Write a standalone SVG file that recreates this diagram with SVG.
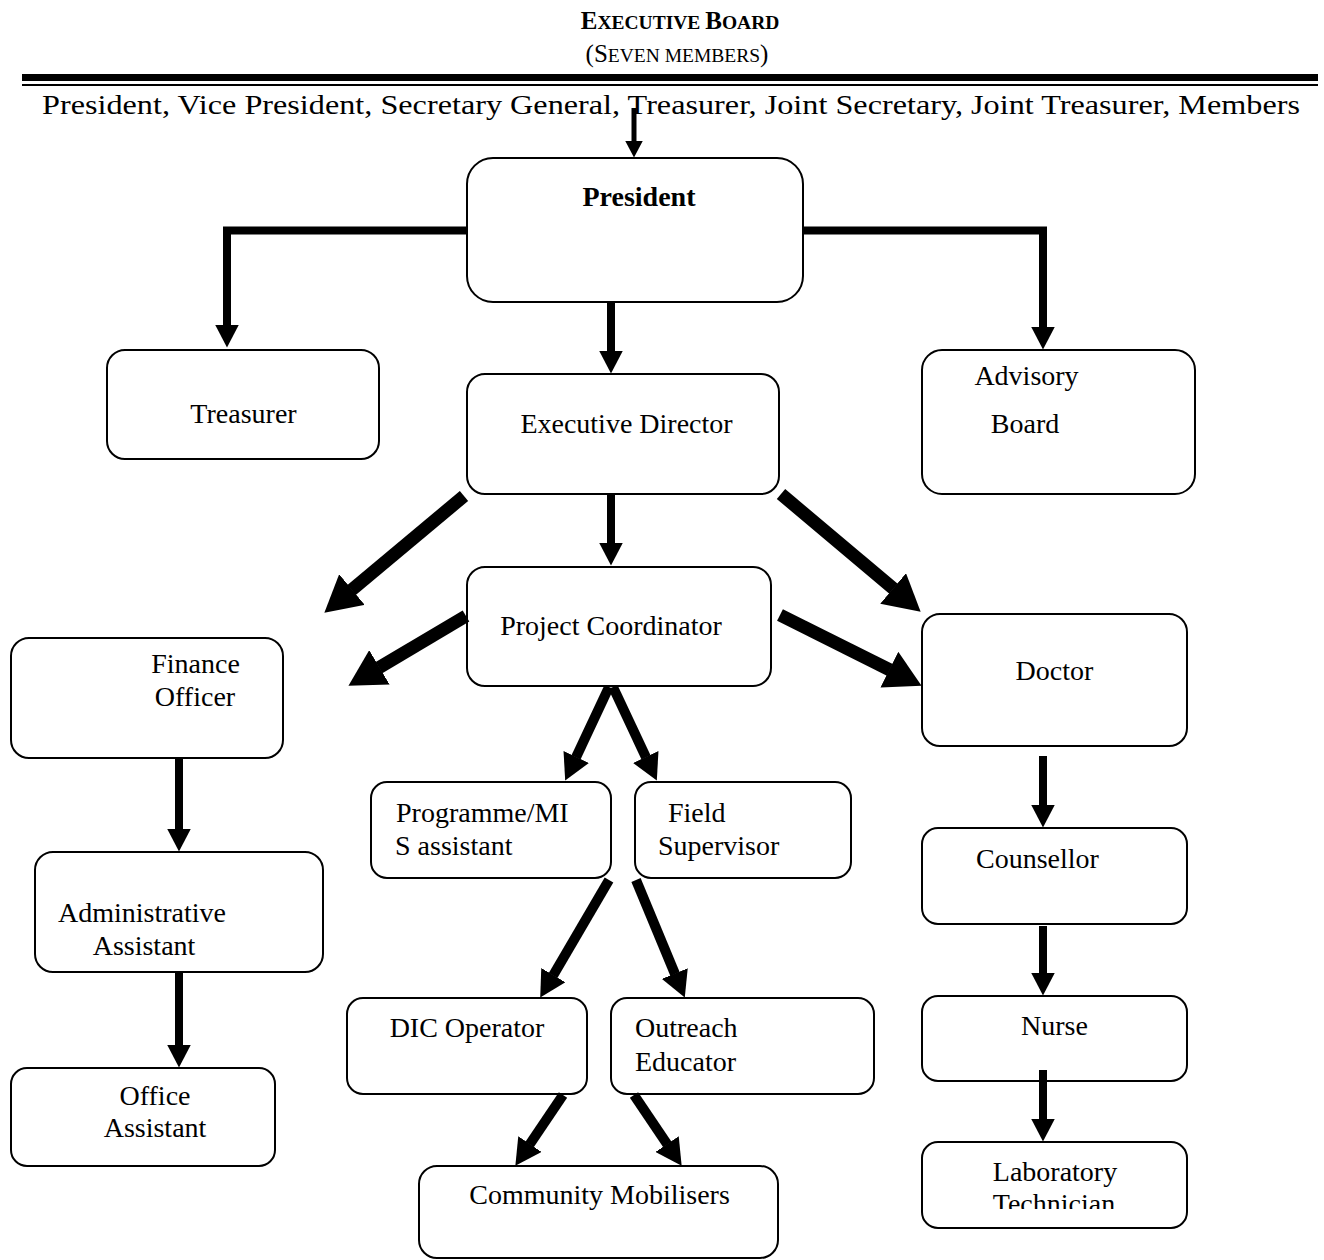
<svg xmlns="http://www.w3.org/2000/svg" width="1324" height="1260" viewBox="0 0 1324 1260">
<style>
.box{fill:#fff;stroke:#000;stroke-width:2}
.t{font-family:"Liberation Serif","Times New Roman",serif;font-size:28px;fill:#000}
.c{text-anchor:middle}
.b{font-weight:bold}
.ln{fill:none;stroke:#000;stroke-linecap:butt;stroke-linejoin:miter}
</style>
<defs>
<marker id="hs" markerUnits="userSpaceOnUse" markerWidth="18" markerHeight="18" refX="0.5" refY="9" orient="auto"><path d="M0,0 L17,9 L0,18 z" fill="#000"/></marker>
<marker id="hm" markerUnits="userSpaceOnUse" markerWidth="24" markerHeight="24" refX="0.5" refY="12" orient="auto"><path d="M0,0 L23,12 L0,24 z" fill="#000"/></marker>
<marker id="hd" markerUnits="userSpaceOnUse" markerWidth="28" markerHeight="28" refX="0.5" refY="14" orient="auto"><path d="M0,0 L26,14 L0,28 z" fill="#000"/></marker>
<marker id="hl" markerUnits="userSpaceOnUse" markerWidth="40" markerHeight="40" refX="0.5" refY="20" orient="auto"><path d="M0,0 L36,20 L0,40 z" fill="#000"/></marker>
<clipPath id="labclip"><rect x="900" y="1140" width="300" height="69"/></clipPath>
</defs>

<g id="header">
<text class="t b c" x="680" y="29"><tspan font-size="25">E</tspan><tspan font-size="19.5">XECUTIVE </tspan><tspan font-size="25">B</tspan><tspan font-size="19.5">OARD</tspan></text>
<text class="t c" x="677" y="62"><tspan font-size="25">(S</tspan><tspan font-size="19.5">EVEN MEMBERS</tspan><tspan font-size="25">)</tspan></text>
<rect x="22" y="74" width="1296" height="7" fill="#000"/>
<rect x="22" y="84" width="1296" height="2" fill="#000"/>
<text class="t" x="42" y="114" textLength="1258" lengthAdjust="spacingAndGlyphs">President, Vice President, Secretary General, Treasurer, Joint Secretary, Joint Treasurer, Members</text>
</g>

<g id="n-president"><rect class="box" x="467" y="158" width="336" height="144" rx="26"/><text class="t b c" x="639" y="206" font-size="33">President</text></g>
<g id="n-treasurer"><rect class="box" x="107" y="350" width="272" height="109" rx="18"/><text class="t c" x="243.5" y="423">Treasurer</text></g>
<g id="n-executive-director"><rect class="box" x="467" y="374" width="312" height="120" rx="18"/><text class="t c" x="626.5" y="433">Executive Director</text></g>
<g id="n-advisory-board"><rect class="box" x="922" y="350" width="273" height="144" rx="20"/><text class="t c" x="1026.5" y="385">Advisory</text><text class="t c" x="1025" y="433">Board</text></g>
<g id="n-project-coordinator"><rect class="box" x="467" y="567" width="304" height="119" rx="18"/><text class="t c" x="611" y="635">Project Coordinator</text></g>
<g id="n-finance-officer"><rect class="box" x="11" y="638" width="272" height="120" rx="18"/><text class="t c" x="195.5" y="673">Finance</text><text class="t c" x="195" y="706">Officer</text></g>
<g id="n-doctor"><rect class="box" x="922" y="614" width="265" height="132" rx="18"/><text class="t c" x="1054.5" y="680">Doctor</text></g>
<g id="n-programme-mis"><rect class="box" x="371" y="782" width="240" height="96" rx="16"/><text class="t" x="396" y="822">Programme/MI</text><text class="t" x="395" y="855">S assistant</text></g>
<g id="n-field-supervisor"><rect class="box" x="635" y="782" width="216" height="96" rx="16"/><text class="t" x="668" y="822">Field</text><text class="t" x="658" y="855">Supervisor</text></g>
<g id="n-admin-assistant"><rect class="box" x="35" y="852" width="288" height="120" rx="18"/><text class="t c" x="142" y="922">Administrative</text><text class="t c" x="144" y="955">Assistant</text></g>
<g id="n-counsellor"><rect class="box" x="922" y="828" width="265" height="96" rx="16"/><text class="t c" x="1037.5" y="868">Counsellor</text></g>
<g id="n-dic-operator"><rect class="box" x="347" y="998" width="240" height="96" rx="16"/><text class="t c" x="467" y="1037">DIC Operator</text></g>
<g id="n-outreach-educator"><rect class="box" x="611" y="998" width="263" height="96" rx="16"/><text class="t" x="635" y="1037">Outreach</text><text class="t" x="635" y="1071">Educator</text></g>
<g id="n-nurse"><rect class="box" x="922" y="996" width="265" height="85" rx="16"/><text class="t c" x="1054.5" y="1035">Nurse</text></g>
<g id="n-office-assistant"><rect class="box" x="11" y="1068" width="264" height="98" rx="16"/><text class="t c" x="155" y="1105">Office</text><text class="t c" x="155" y="1137">Assistant</text></g>
<g id="n-community-mobilisers"><rect class="box" x="419" y="1166" width="359" height="92" rx="18"/><text class="t c" x="599.5" y="1204">Community Mobilisers</text></g>
<g id="n-lab-technician"><rect class="box" x="922" y="1142" width="265" height="86" rx="16"/><text class="t c" x="1055" y="1181">Laboratory</text><text class="t c" x="1054" y="1213" clip-path="url(#labclip)">Technician</text></g>

<g id="connectors">
<path class="ln" d="M634,108 V141" stroke-width="5" marker-end="url(#hs)"/>
<path class="ln" d="M467,230.5 H227 V325" stroke-width="8" marker-end="url(#hm)"/>
<path class="ln" d="M803,230.5 H1043 V327" stroke-width="8" marker-end="url(#hm)"/>
<path class="ln" d="M611,302 V351" stroke-width="8" marker-end="url(#hm)"/>
<path class="ln" d="M611,494 V543" stroke-width="8" marker-end="url(#hm)"/>
<path class="ln" d="M179,758 V829" stroke-width="8" marker-end="url(#hm)"/>
<path class="ln" d="M179,972 V1045" stroke-width="8" marker-end="url(#hm)"/>
<path class="ln" d="M1043,756 V805" stroke-width="8" marker-end="url(#hm)"/>
<path class="ln" d="M1043,926 V973" stroke-width="8" marker-end="url(#hm)"/>
<path class="ln" d="M1043,1070 V1119" stroke-width="8" marker-end="url(#hm)"/>
<path class="ln" d="M464,496 L351.6,589.9" stroke-width="13" marker-end="url(#hl)"/>
<path class="ln" d="M781,494 L893.5,588.8" stroke-width="13" marker-end="url(#hl)"/>
<path class="ln" d="M466,616 L379,667.6" stroke-width="13" marker-end="url(#hl)"/>
<path class="ln" d="M780,615 L889.8,669.9" stroke-width="13" marker-end="url(#hl)"/>
<path class="ln" d="M609,687 L576,757.4" stroke-width="10" marker-end="url(#hd)"/>
<path class="ln" d="M613,687 L646,757.4" stroke-width="10" marker-end="url(#hd)"/>
<path class="ln" d="M609,880 L553.1,975.6" stroke-width="10" marker-end="url(#hd)"/>
<path class="ln" d="M636,880 L675,974" stroke-width="10" marker-end="url(#hd)"/>
<path class="ln" d="M563,1095 L529.6,1144.5" stroke-width="10" marker-end="url(#hd)"/>
<path class="ln" d="M634,1095 L667.4,1144.5" stroke-width="10" marker-end="url(#hd)"/>
</g>
</svg>
